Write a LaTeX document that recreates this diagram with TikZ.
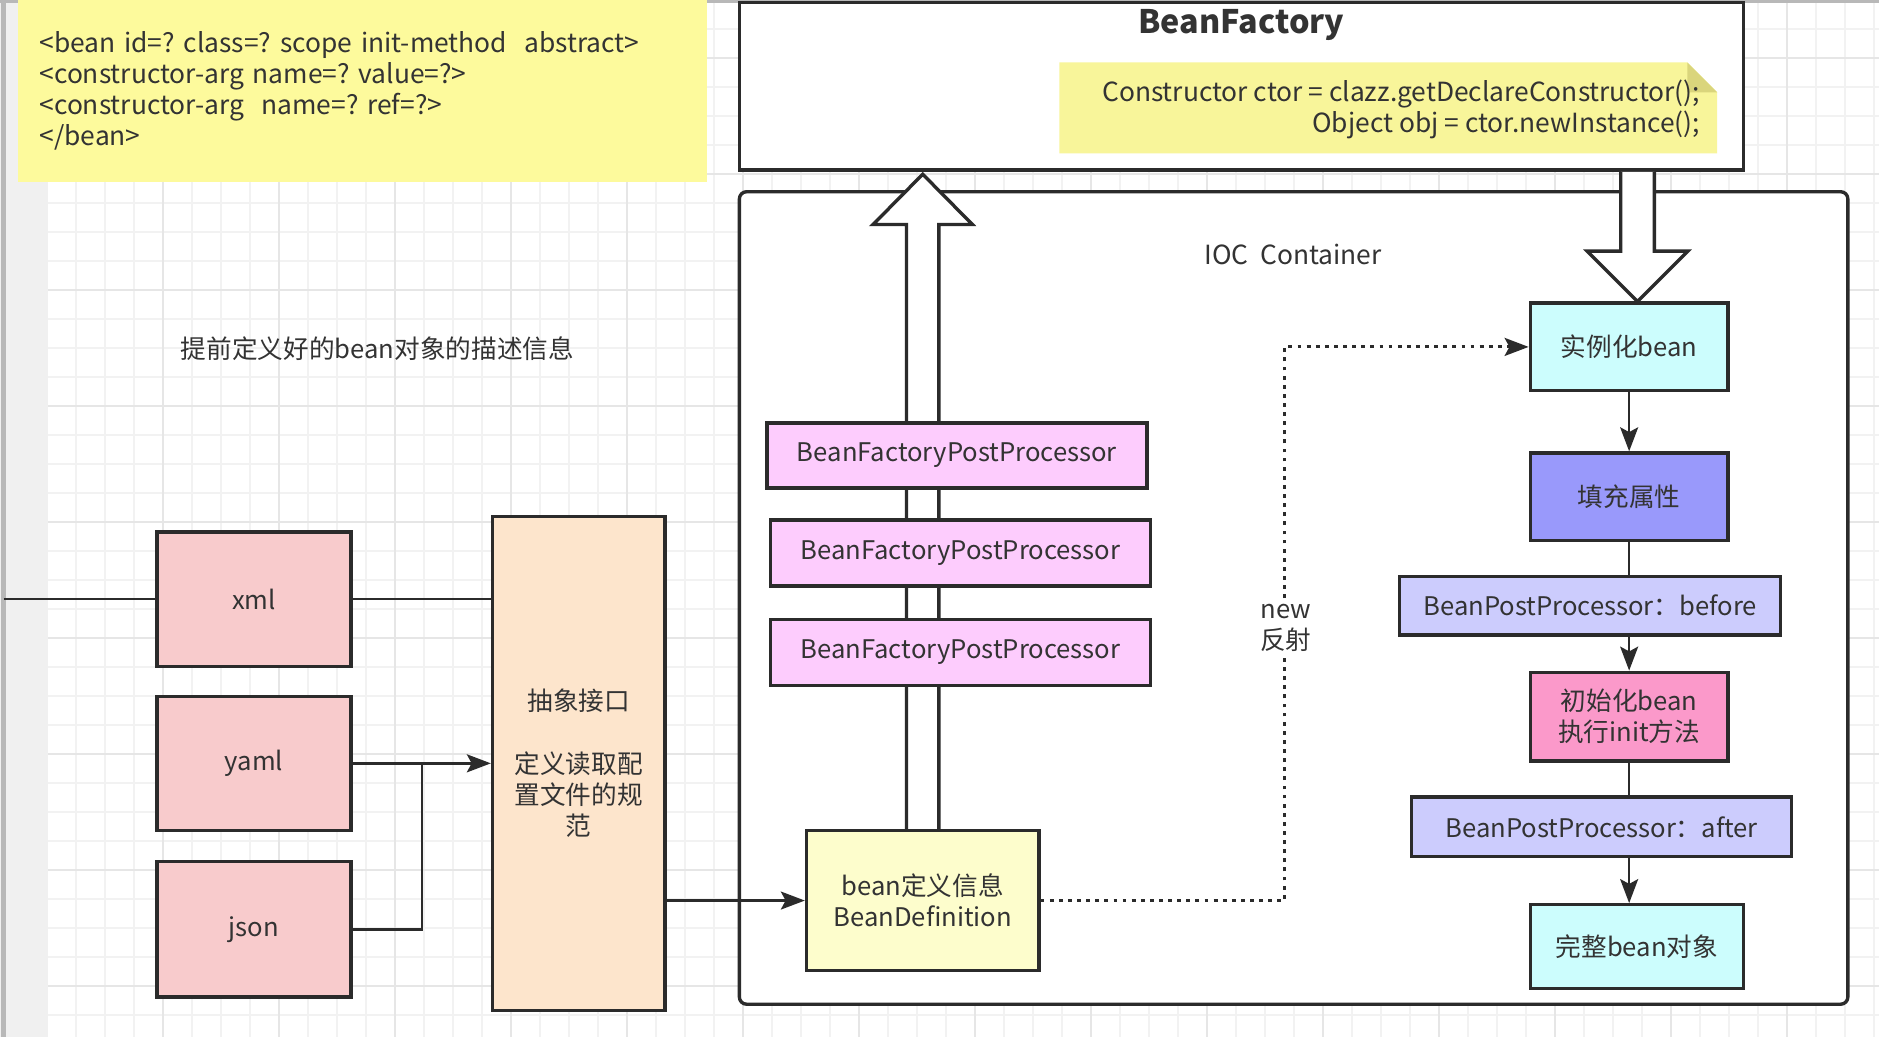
\documentclass[tikz,border=0pt]{standalone}
\usepackage{fontspec}
\setmainfont{Noto Sans CJK SC}
\usetikzlibrary{arrows.meta,calc}
\pgfdeclarelayer{bg}
\pgfdeclarelayer{edges}
\pgfsetlayers{bg,edges,main}
\definecolor{txt}{HTML}{333333}
\definecolor{bdr}{HTML}{2B2B2B}
\definecolor{gminorc}{HTML}{F2F2F2}
\definecolor{gmajorc}{HTML}{E6E6E6}
\definecolor{stripc}{HTML}{F0F0F0}
\definecolor{striplc}{HTML}{B8B8B8}
\definecolor{notey}{HTML}{FDFA9C}
\definecolor{notey2}{HTML}{F8F59A}
\definecolor{foldc}{HTML}{DAD57C}
\definecolor{cpink}{HTML}{F8CBCC}
\definecolor{cabs}{HTML}{FDE5CC}
\definecolor{cbfpp}{HTML}{FDCCFD}
\definecolor{cbd}{HTML}{FDFDCC}
\definecolor{cinst}{HTML}{CCFDFD}
\definecolor{cfill}{HTML}{9999FB}
\definecolor{cbpp}{HTML}{CCCCFD}
\definecolor{cinit}{HTML}{FB99CA}
\tikzset{
  box/.style={draw=bdr, line width=1.4pt, inner sep=2pt, align=center},
  sz/.style 2 args={minimum width={#1*0.5pt}, minimum height={#2*0.5pt}},
  conn/.style={draw=bdr, line width=1pt},
  arr/.style={-{Stealth[length=10pt,width=7.5pt,inset=2pt]}},
  dotl/.style={draw=bdr, line width=1.2pt, dash pattern=on 1.6pt off 2.2pt},
  barrow/.style={draw=bdr, fill=white, line width=1.4pt, line join=miter},
  gminor/.style={draw=gminorc, line width=0.6pt},
  gmajor/.style={draw=gmajorc, line width=0.7pt},
  bigtext/.style={font=\fontsize{11pt}{13pt}\selectfont}
}
\frenchspacing
\begin{document}
\begin{tikzpicture}[x=0.5pt,y=-0.5pt, font=\fontsize{10.7pt}{13pt}\selectfont, text=txt]
\useasboundingbox (0,0) rectangle (1568,865);
\begin{pgfonlayer}{bg}
  \fill[white] (0,0) rectangle (1568,865);
  \foreach \i in {-4,...,59} {\draw[gminor] ({136+\i*24.2},0) -- ({136+\i*24.2},865);}
  \foreach \j in {-10,...,26} {\draw[gminor] (40,{242+\j*24.2}) -- (1568,{242+\j*24.2});}
  \foreach \i in {-1,...,15} {\draw[gmajor] ({136+\i*96.8},0) -- ({136+\i*96.8},865);}
  \foreach \j in {-2,...,6} {\draw[gmajor] (40,{242+\j*96.8}) -- (1568,{242+\j*96.8});}
  \fill[stripc] (0,0) rectangle (40,865);
  \fill[striplc] (1,0) rectangle (5,865);
  \fill[striplc] (0,0) rectangle (1568,2.5);
  \node[draw=bdr, line width=1.4pt, fill=white, rounded corners=3pt, sz={925}{678}] (ioc) at (1079.5,499) {};
  \node[draw=bdr, line width=1.4pt, fill=white, sz={838}{140}] (bf) at (1036,72) {};
\end{pgfonlayer}

% top-left note
\node[bigtext, fill=notey, sz={575}{152}, text width=269.5pt, inner xsep=9pt, align=left] (beannote) at (302.5,76)
  {<bean id=? class=? scope init-method~ abstract>\\<constructor-arg name=? value=?>\\<constructor-arg~ name=? ref=?>\\</bean>};
\node (desc) at (315,291) {提前定义好的bean对象的描述信息};

% BeanFactory content
\node[font=\bfseries\fontsize{13.5pt}{16pt}\selectfont] (bft) at (1036,21) {BeanFactory};
\fill[notey2] (884,52) -- (1408,52) -- (1433,77) -- (1433,128) -- (884,128) -- cycle;
\fill[foldc] (1408,52) -- (1433,77) -- (1408,77) -- cycle;
\node[bigtext, anchor=east, align=right, inner sep=0pt] (ctor) at (1419,91)
  {Constructor ctor = clazz.getDeclareConstructor();\\Object obj = ctor.newInstance();};
\node[bigtext] (ioclbl) at (1079,212) {IOC~ Container};

% left sources
\node[box, fill=cpink, sz={162}{112}] (xml) at (212,500) {xml};
\node[box, fill=cpink, sz={162}{112}] (yaml) at (212,637) {yaml};
\node[box, fill=cpink, sz={162}{113}] (json) at (212,775.5) {json};
\node[box, fill=cabs, sz={144}{412}] (abs) at (483,637) {抽象接口\\[13pt]定义读取配\\置文件的规\\范};

% BeanFactoryPostProcessors and definition
\node[box, fill=cbfpp, sz={317}{54}, line width=1.6pt] (p1) at (798.5,380) {BeanFactoryPostProcessor};
\node[box, fill=cbfpp, sz={317}{55}, line width=1.6pt] (p2) at (801.5,461.5) {BeanFactoryPostProcessor};
\node[box, fill=cbfpp, sz={317}{55}, line width=1.6pt] (p3) at (801.5,544.5) {BeanFactoryPostProcessor};
\node[box, fill=cbd, sz={194}{117}] (bd) at (770,751.5) {bean定义信息\\BeanDefinition};

% right column
\node[box, fill=cinst, sz={165}{73}] (inst) at (1359.5,289.5) {实例化bean};
\node[box, fill=cfill, sz={165}{73}] (fill) at (1359.5,414.5) {填充属性};
\node[box, fill=cbpp, sz={318}{49}] (bpb) at (1327,505.5) {BeanPostProcessor：before};
\node[box, fill=cinit, sz={165}{74}] (init) at (1359.5,598) {初始化bean\\执行init方法};
\node[box, fill=cbpp, sz={317}{50}] (bpa) at (1336.5,690) {BeanPostProcessor：after};
\node[box, fill=cinst, sz={178}{70}] (full) at (1366,790) {完整bean对象};

\coordinate (turn) at (1072,523);
\node[fill=white, inner sep=1pt, align=center] (newlbl) at (1073,524) {new\\反射};

\begin{pgfonlayer}{edges}
  \coordinate (lstart) at (3,500);
  \draw[conn] (lstart) -- (xml.west);
  \draw[conn] (xml.east) -- (xml.east -| abs.west);
  \draw[conn, arr] (yaml.east) -- (abs.west);
  \draw[conn] (json.east) -| ($(yaml.east)!.5!(abs.west)$);
  \draw[conn, arr] (abs.east |- bd.west) -- (bd.west);
  \draw[dotl, arr] (bd.east) -| (turn) |- (inst.west);
  \draw[conn, arr] (inst.south) -- (fill.north);
  \draw[conn, arr] (fill.south) -- (init.north);
  \draw[conn, arr] (init.south) -- (init.south |- full.north);
  % block arrow up: BeanDefinition -> BeanFactory
  \coordinate (upTip) at (bf.south -| bd.north);
  \draw[barrow] ($(bd.north)+(-13.5,0)$) -- ($(upTip)+(-13.5,44)$) -- ($(upTip)+(-41.5,44)$)
     -- ($(upTip)+(0,2)$) -- ($(upTip)+(41.5,44)$) -- ($(upTip)+(13.5,44)$) -- ($(bd.north)+(13.5,0)$);
  % block arrow down: BeanFactory -> instantiate
  \coordinate (dnTop) at ($(bf.south -| inst.north)+(7,0)$);
  \coordinate (dnTip) at (dnTop |- inst.north);
  \draw[barrow] ($(dnTop)+(-14,0)$) -- ($(dnTip)+(-14,-42)$) -- ($(dnTip)+(-42,-42)$)
     -- (dnTip) -- ($(dnTip)+(42,-42)$) -- ($(dnTip)+(14,-42)$) -- ($(dnTop)+(14,0)$);
\end{pgfonlayer}
\end{tikzpicture}
\end{document}
